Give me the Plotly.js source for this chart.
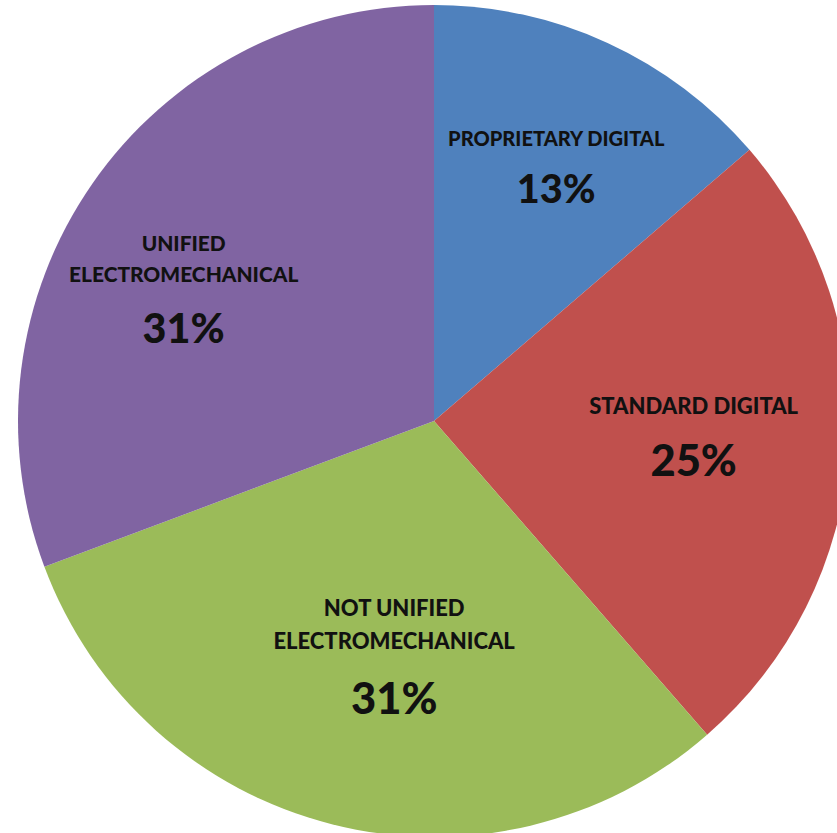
<!DOCTYPE html>
<html>
<head>
<meta charset="utf-8">
<script src="https://cdn.plot.ly/plotly-3.0.1.min.js"></script>
<style>
html,body{margin:0;padding:0;overflow:hidden;background:#ffffff;}
#chart{width:868px;height:837px;}
</style>
</head>
<body>
<div id="chart"></div>
<script>
// Data
const categories = ["PROPRIETARY DIGITAL", "STANDARD DIGITAL", "NOT UNIFIED ELECTROMECHANICAL", "UNIFIED ELECTROMECHANICAL"];
const labelLines = [["PROPRIETARY DIGITAL"], ["STANDARD DIGITAL"], ["NOT UNIFIED", "ELECTROMECHANICAL"], ["UNIFIED", "ELECTROMECHANICAL"]];
const shares = [13.7, 24.9, 30.7, 30.7];
const percentLabels = ["13%", "25%", "31%", "31%"];

// Styles (text placement padding, in em-spaces / blank lines)
const sliceColors = ["#4F81BD", "#C0504D", "#9BBB59", "#8064A2"];
const labelSize = 22;
const percentSize = 43.5;
const padLeft = [0, 2, 2, 0];
const padRight = [0, 0, 0, 8];
const padTop = [1, 0, 1, 0];
const lineBase = [24, 24, 25, 25];

const EM = "\u2003";
const sliceText = labelLines.map((lines, i) => {
  const L = EM.repeat(padLeft[i]);
  const R = EM.repeat(padRight[i]);
  const rows = [];
  for (let k = 0; k < padTop[i]; k++) rows.push(`<span style="font-size:${labelSize}px">${L}\u00A0${R}</span>`);
  lines.forEach(l => rows.push(`<span style="font-size:${labelSize}px">${L}${l}${R}</span>`));
  rows.push(`<span style="font-size:${labelSize}px">${L}\u00A0${R}</span>`);
  rows.push(`<span style="font-size:${labelSize}px">${L}</span><span style="font-size:${percentSize}px">${percentLabels[i]}</span><span style="font-size:${labelSize}px">${R}</span>`);
  return rows.join("<br>");
});

const trace = {
  type: "pie",
  labels: categories,
  values: shares,
  text: sliceText,
  textinfo: "text",
  texttemplate: "%{text}",
  textposition: "inside",
  insidetextorientation: "horizontal",
  sort: false,
  direction: "clockwise",
  rotation: 0,
  hole: 0,
  marker: { colors: sliceColors, line: { width: 0 } },
  textfont: {
    family: "Lato, 'Open Sans', 'DejaVu Sans', sans-serif",
    size: lineBase,
    color: "#111111",
    weight: 900
  },
  hoverinfo: "label+percent",
  showlegend: false
};

const layout = {
  width: 868,
  height: 837,
  margin: { l: 0, r: 0, t: 5, b: 0, pad: 0 },
  paper_bgcolor: "#ffffff",
  plot_bgcolor: "#ffffff",
  showlegend: false
};

Plotly.newPlot("chart", [trace], layout, { displayModeBar: false, staticPlot: true });
</script>
</body>
</html>
